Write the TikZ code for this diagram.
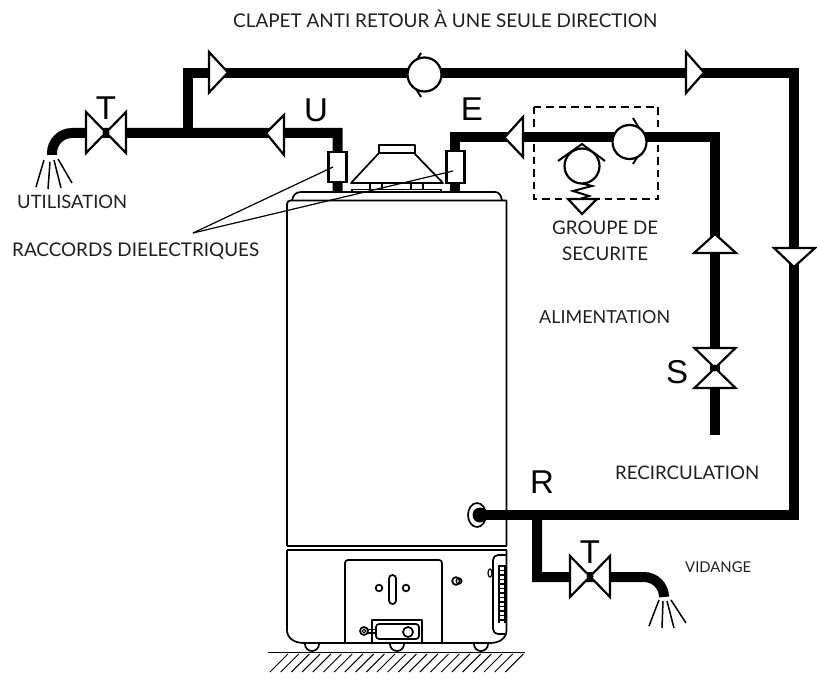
\documentclass[tikz,border=0pt]{standalone}
\usepackage{fontspec}
\setmainfont{Lato}
\newfontfamily\bigfont{Liberation Sans}
\usepackage{graphicx}
\newcommand{\fitw}[2]{\resizebox{#1pt}{!}{\fontsize{14}{16}\selectfont #2}}
\tikzset{
  pipe/.style={line width=10pt,line join=miter,line cap=butt},
  sym/.style={draw,fill=white,line width=2.2pt,line join=miter},
  thinl/.style={line width=1.5pt,line join=round},
  body/.style={line width=1.7pt,line join=round},
  lbl/.style={inner sep=0pt,anchor=base west,text=black!88},
  big/.style={inner sep=0pt,anchor=base,font=\bigfont\fontsize{33}{36}\selectfont},
  spray/.style={line width=1.5pt},
  dashbox/.style={line width=1.8pt,dash pattern=on 7.5pt off 5pt}
}
\begin{document}
\begin{tikzpicture}[x=1pt,y=-1pt]
\useasboundingbox (0,0) rectangle (817,682);
% ---- boiler
\draw[body] (287,546) -- (287,204) .. controls (287,202) and (288.5,200.5) .. (290.5,200.5) -- (506.5,200.5) -- (506.5,546);
\draw[body] (292,200.5) .. controls (293,195) and (296,192) .. (301,192) -- (495,192) .. controls (499,192) and (501,195) .. (502,200.5);
\draw[line width=1.8pt] (287,546) -- (506.5,546);
\draw[body] (287,550) -- (506.5,550);
\draw[body] (287,550) -- (287,630) .. controls (287,638) and (294,643) .. (304,643) -- (490,643) .. controls (500,643) and (506.5,638) .. (506.5,630) -- (506.5,550);
% feet
\foreach \fx in {312,397,481}{
  \draw[body] (\fx-7,644) .. controls (\fx-7,648) and (\fx-4,651) .. (\fx,651) .. controls (\fx+4,651) and (\fx+7,648) .. (\fx+7,644);
}
% ground
\draw[line width=1.5pt] (268,652.5) -- (525,652.5);
\foreach \hx in {270,280.7,...,516}{
  \draw[line width=1pt] (\hx,672) -- (\hx+18,654);
}
% flue
\draw[body] (379,145) rectangle (415,153);
\draw[body] (379,153) -- (351,183) -- (443,183) -- (414,153);
\draw[body] (352,189.5) rectangle (441,192);
\foreach \vx in {370,382,411,423}{ \draw[body] (\vx,183) -- (\vx,189.5); }
% front panel
\draw[body,rounded corners=3pt] (345,643) -- (345,560) -- (442,560) -- (442,643);
\draw[body] (379,588) circle[radius=3.3];
\draw[body] (406,588) circle[radius=3.3];
\draw[body,rounded corners=3.4pt] (389,575) rectangle (396,604);
\draw[body] (372,643) -- (372,620) -- (422,620) -- (422,643);
\draw[body,fill=white,rounded corners=3pt] (376,624) rectangle (419,639);
\draw[body] (408,632) circle[radius=5];
\draw[body] (364,631) circle[radius=4];
\draw[line width=1pt] (364,631) circle[radius=1.8];
\draw[line width=1.2pt] (368,629.5) -- (376,629.5) (368,633) -- (376,633);
% side valve
\draw[line width=1.8pt] (456,581) circle[radius=3.8];
\draw[line width=1.4pt] (459,581) circle[radius=2.8];
% side panel
\draw[body,rounded corners=5pt] (506.5,555) -- (493,555) -- (493,634) -- (506.5,634);
\draw[line width=1.2pt] (490,573) ellipse[x radius=2,y radius=4];
\draw[line width=1.2pt] (499,565) -- (499,623) (505,565) -- (505,623);
\foreach \ry in {566,570.5,...,623}{ \draw[line width=1.1pt] (498,\ry) -- (506,\ry); }
\foreach \ry in {566,579.5,...,623}{ \draw[line width=1.6pt] (498,\ry) -- (506,\ry); }

% ---- named junctions
\coordinate (uU) at (337.5,133);
\coordinate (uB) at (337.5,192);
\coordinate (tee) at (188,133);
\coordinate (tT) at (188,73.5);
\coordinate (cTR) at (793.5,73.5);
\coordinate (cBR) at (793.5,515);
\coordinate (tank) at (480,515);
\coordinate (drT) at (537,515);
\coordinate (drB) at (537,577);
\coordinate (eB) at (455,192);
\coordinate (eT) at (455,137.5);
\coordinate (sTR) at (715,137.5);
\coordinate (sB) at (715,435);
% ---- pipes
\draw[pipe] (52,155) -- (52,153) .. controls (52,142) and (61,133) .. (72,133) -- (uU) -- (uB);
\draw[pipe] (tee) -- (tT) -- (cTR) -- (cBR) -- (tank);
\draw[pipe] (drT) -- (drB) -- (644,577) .. controls (655,577) and (664,586) .. (664,597);
\draw[pipe] (eB) -- (eT) -- (sTR) -- (sB);
% tank connection
\draw[body,fill=white] (477,515) ellipse[x radius=9,y radius=12];
\fill (480,515) circle[radius=7.5];
\draw[pipe] (480,515) -- (510,515);
% dielectric unions
\draw[sym] (328.5,152) rectangle (346.5,182);
\draw[sym] (446.5,151) rectangle (464.5,183);
% flow triangles
\draw[sym] (209,52) -- (228,72.5) -- (209,92.5) -- cycle;
\draw[sym] (686,52) -- (704,72.5) -- (686,93) -- cycle;
\draw[sym] (284,115) -- (266,133) -- (284,155) -- cycle;
\draw[sym] (523,117) -- (504.5,137.5) -- (523,157) -- cycle;
\draw[sym] (694,253) -- (715,234) -- (736,253) -- cycle;
\draw[sym] (774,248) -- (815,248) -- (794,267) -- cycle;
% gate valves
\draw[sym] (86,112) -- (126,153) -- (126,112) -- (86,153) -- cycle;
\fill (106,132.5) circle[radius=3.5];
\draw[sym] (570,556) -- (610,597) -- (610,556) -- (570,597) -- cycle;
\fill (590,576.5) circle[radius=3.5];
\draw[sym] (694.5,348) -- (735.5,388) -- (694.5,388) -- (735.5,348) -- cycle;
\fill (715,368) circle[radius=3.5];
% check valves
\draw[line width=2pt,line join=miter] (421,53) -- (407.5,75) -- (421,97);
\draw[sym] (424.5,74.5) circle[radius=17];
\draw[line width=2pt,line join=miter] (633,118) -- (647,141) -- (633,164);
\draw[sym] (629.5,142) circle[radius=17];
% safety group
\draw[dashbox] (534,107) rectangle (658,199);
\draw[line width=2pt,line join=miter] (558,161) -- (582,144) -- (605,161);
\draw[sym] (582,166) circle[radius=17.5];
\draw[line width=2pt,line join=miter] (582,183.5) -- (592,186) -- (573,191) -- (589,196) -- (580,199);
\draw[sym] (568,199) -- (597,199) -- (582,214) -- cycle;
% sprays
\draw[spray] (44,160) -- (36,187) (50,162) -- (48,189) (54,160) -- (61,188) (58,159) -- (72,183);
\draw[spray] (659,600) -- (649,626) (663,601) -- (662,628) (667,601) -- (674,628) (671,600) -- (686,623);
% leaders
\coordinate (lead) at (193,233);
\coordinate (leadU) at (333,167);
\coordinate (leadE) at (453,171);
\draw[line width=1.2pt] (lead) -- (leadU);
\draw[line width=1.2pt] (lead) -- (leadE);
% labels
\node[big] (lT) at (106,120) {T};
\node[big] (lU) at (316,122) {U};
\node[big] (lE) at (472,121) {E};
\node[big] (lS) at (677,383) {S};
\node[big] (lR) at (542,493) {R};
\node[big] (lT2) at (590,563) {T};
\node[lbl] (clapet) at (233,28) {\fitw{424}{CLAPET ANTI RETOUR À UNE SEULE DIRECTION}};
\node[lbl] (util) at (17,208) {\fitw{110}{UTILISATION}};
\node[lbl] (racc) at (12,256.5) {\fitw{247}{RACCORDS DIELECTRIQUES}};
\node[lbl] (grp1) at (552,235) {\fitw{106}{GROUPE DE}};
\node[lbl] (grp2) at (562,260) {\fitw{86}{SECURITE}};
\node[lbl] (alim) at (539,323) {\fitw{131}{ALIMENTATION}};
\node[lbl] (reci) at (615,479) {\fitw{144}{RECIRCULATION}};
\node[lbl] (vida) at (685,572) {\fitw{66}{VIDANGE}};
\end{tikzpicture}
\end{document}
